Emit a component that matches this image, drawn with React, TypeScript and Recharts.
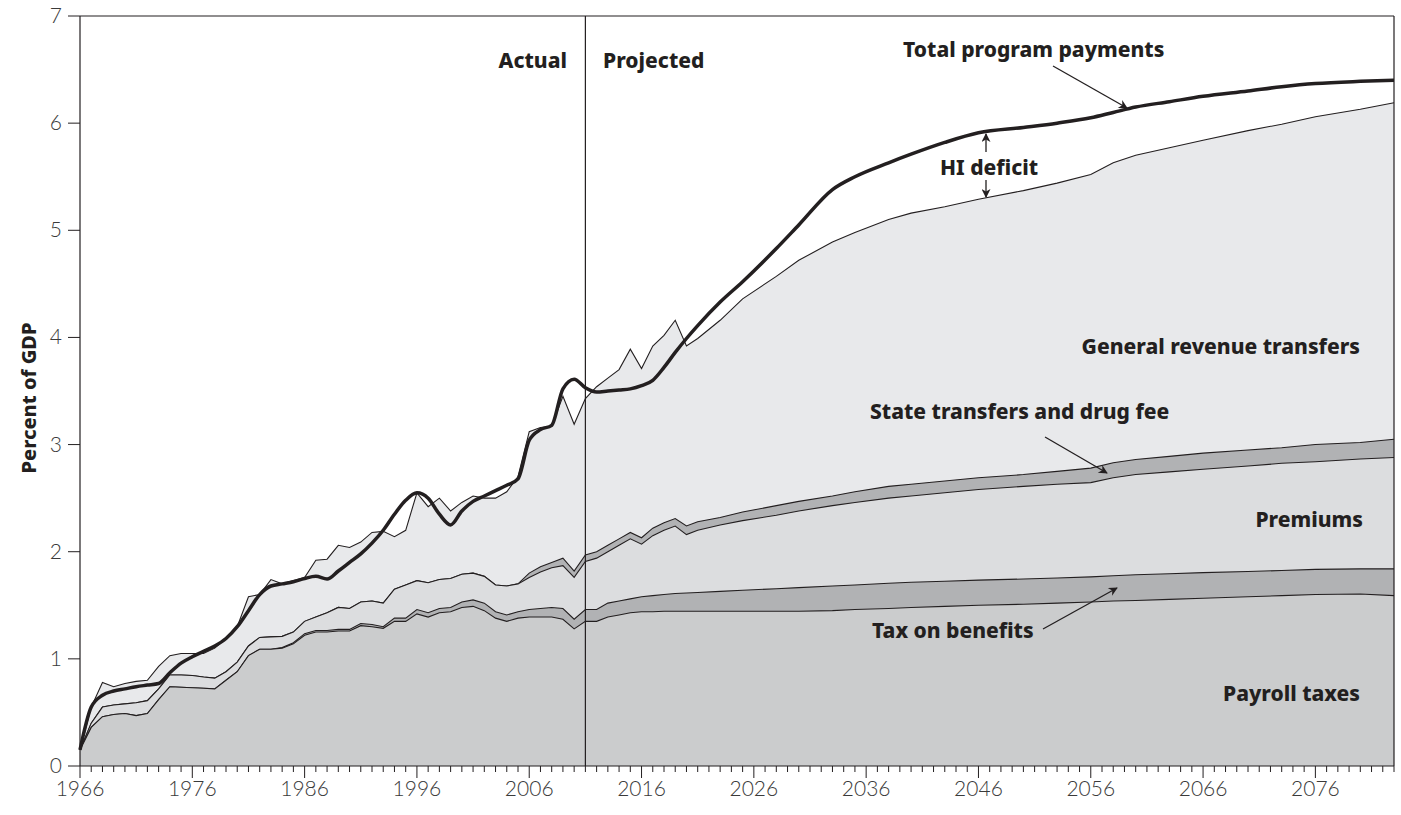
import { ComposedChart, Area, Line, XAxis, YAxis, ReferenceLine } from 'recharts';

// calendar years of the data points (yearly through 2021, sparser in the long-range projection)
const years = [
    1966, 1967, 1968, 1969, 1970, 1971, 1972, 1973, 1974, 1975,
    1976, 1977, 1978, 1979, 1980, 1981, 1982, 1983, 1984, 1985,
    1986, 1987, 1988, 1989, 1990, 1991, 1992, 1993, 1994, 1995,
    1996, 1997, 1998, 1999, 2000, 2001, 2002, 2003, 2004, 2005,
    2006, 2007, 2008, 2009, 2010, 2011, 2012, 2013, 2014, 2015,
    2016, 2017, 2018, 2019, 2020, 2021,
    2023, 2025, 2028, 2030, 2033, 2035, 2038, 2040, 2043, 2046,
    2050, 2053, 2056, 2058, 2060, 2063, 2066, 2070, 2073, 2076, 2080, 2083,
];

// cumulative income levels, percent of GDP (each = top edge of its band)
const payrollTop = [
    0.15, 0.36, 0.46, 0.48, 0.49, 0.47, 0.49, 0.62, 0.74, 0.735,
    0.73, 0.725, 0.72, 0.80, 0.88, 1.03, 1.09, 1.09, 1.10, 1.14,
    1.22, 1.25, 1.25, 1.26, 1.26, 1.31, 1.30, 1.285, 1.35, 1.35,
    1.42, 1.39, 1.43, 1.44, 1.48, 1.49, 1.45, 1.38, 1.35, 1.38,
    1.39, 1.39, 1.39, 1.37, 1.28, 1.35, 1.35, 1.39, 1.41, 1.43,
    1.44, 1.44, 1.445, 1.445, 1.445, 1.445,
    1.445, 1.445, 1.445, 1.445, 1.45, 1.46, 1.47, 1.48, 1.49, 1.50,
    1.51, 1.52, 1.53, 1.54, 1.545, 1.555, 1.565, 1.58, 1.59, 1.60, 1.605, 1.59,
];

const benefitTaxTop = [
    0.15, 0.36, 0.46, 0.48, 0.49, 0.47, 0.49, 0.62, 0.74, 0.735,
    0.73, 0.725, 0.72, 0.80, 0.88, 1.03, 1.09, 1.09, 1.105, 1.15,
    1.235, 1.265, 1.265, 1.275, 1.275, 1.33, 1.32, 1.30, 1.38, 1.38,
    1.46, 1.43, 1.47, 1.48, 1.53, 1.55, 1.52, 1.44, 1.41, 1.44,
    1.46, 1.47, 1.48, 1.47, 1.37, 1.46, 1.46, 1.52, 1.54, 1.56,
    1.58, 1.59, 1.60, 1.61, 1.615, 1.62,
    1.63, 1.64, 1.655, 1.665, 1.68, 1.69, 1.705, 1.715, 1.725, 1.735,
    1.745, 1.755, 1.765, 1.775, 1.785, 1.795, 1.805, 1.815, 1.825, 1.835, 1.84, 1.84,
];

const premiumsTop = [
    0.15, 0.40, 0.55, 0.57, 0.58, 0.59, 0.61, 0.72, 0.85, 0.85,
    0.845, 0.83, 0.82, 0.88, 0.97, 1.12, 1.20, 1.205, 1.21, 1.25,
    1.35, 1.39, 1.43, 1.48, 1.47, 1.53, 1.54, 1.52, 1.65, 1.69,
    1.73, 1.71, 1.74, 1.75, 1.79, 1.80, 1.77, 1.69, 1.68, 1.70,
    1.76, 1.81, 1.85, 1.87, 1.76, 1.91, 1.94, 2.00, 2.06, 2.12,
    2.07, 2.15, 2.20, 2.24, 2.16, 2.20,
    2.25, 2.29, 2.34, 2.38, 2.43, 2.46, 2.50, 2.52, 2.55, 2.58,
    2.61, 2.63, 2.645, 2.69, 2.72, 2.745, 2.77, 2.80, 2.825, 2.84, 2.865, 2.88,
];

const stateTop = [
    0.15, 0.40, 0.55, 0.57, 0.58, 0.59, 0.61, 0.72, 0.85, 0.85,
    0.845, 0.83, 0.82, 0.88, 0.97, 1.12, 1.20, 1.205, 1.21, 1.25,
    1.35, 1.39, 1.43, 1.48, 1.47, 1.53, 1.54, 1.52, 1.65, 1.69,
    1.73, 1.71, 1.74, 1.75, 1.79, 1.80, 1.77, 1.69, 1.68, 1.70,
    1.80, 1.86, 1.90, 1.94, 1.82, 1.97, 2.00, 2.06, 2.12, 2.18,
    2.13, 2.22, 2.27, 2.31, 2.24, 2.28,
    2.32, 2.37, 2.43, 2.47, 2.52, 2.56, 2.61, 2.63, 2.66, 2.69,
    2.72, 2.75, 2.78, 2.83, 2.86, 2.89, 2.92, 2.95, 2.97, 3.00, 3.02, 3.05,
];

const generalRevenueTop = [
    0.15, 0.55, 0.78, 0.74, 0.77, 0.79, 0.80, 0.93, 1.03, 1.05,
    1.05, 1.05, 1.10, 1.19, 1.30, 1.58, 1.60, 1.74, 1.70, 1.73,
    1.76, 1.92, 1.93, 2.06, 2.04, 2.09, 2.18, 2.19, 2.14, 2.20,
    2.55, 2.42, 2.50, 2.38, 2.46, 2.52, 2.50, 2.50, 2.56, 2.70,
    3.12, 3.16, 3.17, 3.45, 3.19, 3.43, 3.54, 3.62, 3.70, 3.89,
    3.71, 3.92, 4.02, 4.16, 3.92, 3.99,
    4.16, 4.36, 4.57, 4.72, 4.89, 4.98, 5.10, 5.16, 5.22, 5.29,
    5.37, 5.44, 5.52, 5.63, 5.70, 5.77, 5.84, 5.93, 5.99, 6.06, 6.13, 6.19,
];

const totalPayments = [
    0.15, 0.55, 0.66, 0.70, 0.72, 0.74, 0.755, 0.77, 0.87, 0.96,
    1.02, 1.07, 1.12, 1.19, 1.30, 1.45, 1.60, 1.68, 1.70, 1.72,
    1.75, 1.77, 1.745, 1.82, 1.90, 1.98, 2.08, 2.20, 2.35, 2.48,
    2.55, 2.50, 2.35, 2.25, 2.38, 2.47, 2.52, 2.57, 2.62, 2.68,
    3.04, 3.14, 3.18, 3.52, 3.61, 3.53, 3.49, 3.50, 3.51, 3.52,
    3.55, 3.60, 3.72, 3.86, 3.99, 4.11,
    4.33, 4.52, 4.83, 5.05, 5.38, 5.50, 5.63, 5.71, 5.82, 5.91,
    5.96, 6.00, 6.05, 6.10, 6.15, 6.20, 6.25, 6.30, 6.34, 6.37, 6.39, 6.40,
];

const yTicks = [0, 1, 2, 3, 4, 5, 6, 7];
const labelledYears = [1966, 1976, 1986, 1996, 2006, 2016, 2026, 2036, 2046, 2056, 2066, 2076];
const firstYear = 1966;
const lastYear = 2083;
const projectionStart = 2011;

const INK = '#231f20';
const BOLD_FONT = '"Noto Sans", "DejaVu Sans", sans-serif';
const LIGHT_FONT = 'Lato, "Noto Sans", sans-serif';

const chartData = years.map((year, i) => ({
    year,
    payroll: payrollTop[i],
    benefitTax: benefitTaxTop[i],
    premiums: premiumsTop[i],
    state: stateTop[i],
    general: generalRevenueTop[i],
    total: totalPayments[i],
}));

const allTickYears = Array.from({ length: lastYear - firstYear + 1 }, (_, i) => firstYear + i);

const XTick = ({ x, y, payload }: { x?: number; y?: number; payload?: { value: number } }) => {
    if (x === undefined || y === undefined || !payload) return null;
    const major = labelledYears.includes(payload.value);
    return (
        <g>
            <line x1={x} x2={x} y1={y} y2={y + (major ? 12 : 6)} stroke={INK} strokeWidth={1} />
            {major && (
                <text x={x} y={y + 30} textAnchor="middle" fontFamily={LIGHT_FONT} fontWeight={300} fontSize={21} fill="#3a3a3a">
                    {payload.value}
                </text>
            )}
        </g>
    );
};

const YTick = ({ x, y, payload }: { x?: number; y?: number; payload?: { value: number } }) => {
    if (x === undefined || y === undefined || !payload) return null;
    return (
        <text x={x + 2} y={y + 7} textAnchor="end" fontFamily={LIGHT_FONT} fontWeight={300} fontSize={21} fill="#3a3a3a">
            {payload.value}
        </text>
    );
};

const labelStyle = { fontFamily: BOLD_FONT, fontWeight: 800, fontSize: 21, fill: INK } as const;

const Annotations = () => (
    <svg width={1401} height={815} style={{ position: 'absolute', left: 0, top: 0, pointerEvents: 'none' }}>
        <defs>
            <marker id="head" viewBox="0 0 10 10" refX="9" refY="5" markerWidth="10" markerHeight="9" orient="auto-start-reverse" markerUnits="userSpaceOnUse">
                <path d="M0,0 L10,5 L0,10 L3,5 z" fill={INK} />
            </marker>
        </defs>
        <text x={567} y={68} textAnchor="end" {...labelStyle}>Actual</text>
        <text x={603} y={68} {...labelStyle}>Projected</text>
        <text x={903} y={57} {...labelStyle}>Total program payments</text>
        <line x1={1053} y1={66} x2={1127} y2={108} stroke={INK} strokeWidth={1.3} markerEnd="url(#head)" />
        <text x={940} y={175} {...labelStyle}>HI deficit</text>
        <line x1={986} y1={152} x2={986} y2={134} stroke={INK} strokeWidth={1.3} markerEnd="url(#head)" />
        <line x1={986} y1={180} x2={986} y2={197} stroke={INK} strokeWidth={1.3} markerEnd="url(#head)" />
        <text x={1360} y={354} textAnchor="end" {...labelStyle}>General revenue transfers</text>
        <text x={870} y={419} {...labelStyle}>State transfers and drug fee</text>
        <line x1={1045} y1={437} x2={1107} y2={473} stroke={INK} strokeWidth={1.3} markerEnd="url(#head)" />
        <text x={1363} y={527} textAnchor="end" {...labelStyle}>Premiums</text>
        <text x={872} y={638} {...labelStyle}>Tax on benefits</text>
        <line x1={1043} y1={629} x2={1117} y2={588} stroke={INK} strokeWidth={1.3} markerEnd="url(#head)" />
        <text x={1360} y={701} textAnchor="end" {...labelStyle}>Payroll taxes</text>
        <text x={0} y={0} transform="translate(36,398) rotate(-90)" textAnchor="middle" {...labelStyle} fontSize={20}>
            Percent of GDP
        </text>
    </svg>
);

export default function App() {
    return (
        <div style={{ position: 'absolute', left: 0, top: 0, width: 1401, height: 815, background: '#fff' }}>
            <ComposedChart width={1401} height={815} data={chartData} margin={{ top: 16, right: 7, bottom: 0, left: 0 }}>
                <XAxis
                    dataKey="year"
                    type="number"
                    domain={[firstYear, lastYear]}
                    ticks={allTickYears}
                    interval={0}
                    tick={<XTick />}
                    tickLine={false}
                    tickSize={0}
                    tickMargin={0}
                    axisLine={{ stroke: INK, strokeWidth: 1.2 }}
                    height={49}
                />
                <YAxis
                    type="number"
                    domain={[0, 7]}
                    ticks={yTicks}
                    interval={0}
                    tick={<YTick />}
                    tickSize={12}
                    tickMargin={8}
                    tickLine={{ stroke: INK, strokeWidth: 1 }}
                    axisLine={{ stroke: INK, strokeWidth: 1.2 }}
                    width={80}
                />
                <Area dataKey="general" type="linear" fill="#e8e9eb" fillOpacity={1} stroke={INK} strokeWidth={1.1} dot={false} activeDot={false} isAnimationActive={false} />
                <Area dataKey="state" type="linear" fill="#b1b2b4" fillOpacity={1} stroke={INK} strokeWidth={1.1} dot={false} activeDot={false} isAnimationActive={false} />
                <Area dataKey="premiums" type="linear" fill="#dcdddf" fillOpacity={1} stroke={INK} strokeWidth={1.1} dot={false} activeDot={false} isAnimationActive={false} />
                <Area dataKey="benefitTax" type="linear" fill="#b1b2b4" fillOpacity={1} stroke={INK} strokeWidth={1.1} dot={false} activeDot={false} isAnimationActive={false} />
                <Area dataKey="payroll" type="linear" fill="#cbcccd" fillOpacity={1} stroke={INK} strokeWidth={1.1} dot={false} activeDot={false} isAnimationActive={false} />
                <Line dataKey="total" type="monotone" stroke={INK} strokeWidth={3.5} dot={false} activeDot={false} isAnimationActive={false} />
                <ReferenceLine x={projectionStart} stroke={INK} strokeWidth={1.2} />
                <ReferenceLine y={7} stroke={INK} strokeWidth={1.2} />
                <ReferenceLine x={lastYear} stroke={INK} strokeWidth={1.2} />
            </ComposedChart>
            <Annotations />
        </div>
    );
}
